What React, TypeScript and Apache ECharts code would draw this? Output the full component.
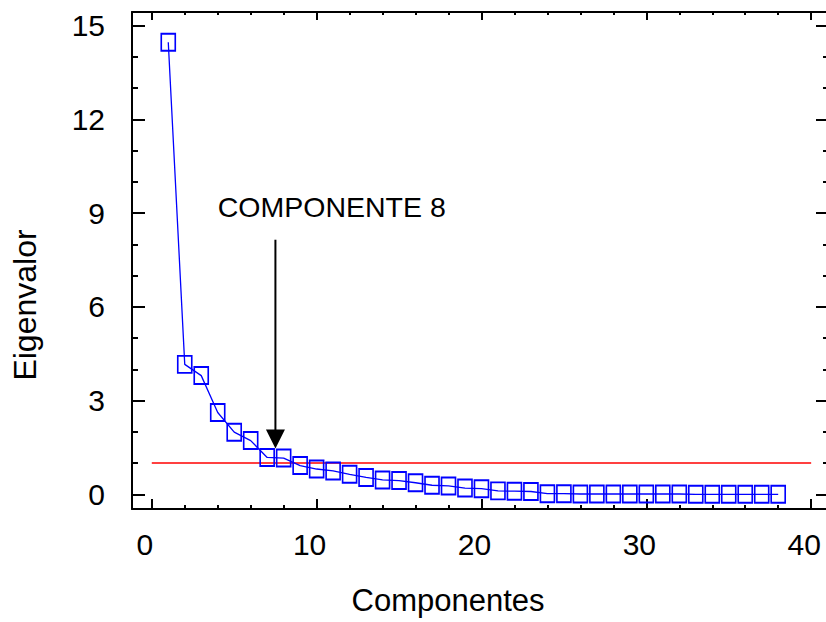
import React, { useEffect, useRef } from 'react';
import * as echarts from 'echarts';

// ---- data ----
const components = [
  1, 2, 3, 4, 5, 6, 7, 8, 9, 10, 11, 12, 13, 14, 15, 16, 17, 18, 19,
  20, 21, 22, 23, 24, 25, 26, 27, 28, 29, 30, 31, 32, 33, 34, 35, 36, 37, 38,
];
const eigenvalues = [
  14.47, 4.16, 3.8, 2.62, 1.99, 1.72, 1.18, 1.16, 0.92, 0.81, 0.75, 0.64, 0.54,
  0.46, 0.44, 0.37, 0.29, 0.27, 0.2, 0.18, 0.11, 0.1, 0.09, 0.02, 0.02, 0.01,
  0.01, 0.01, 0.01, 0.01, 0.01, 0.01, 0.0, 0.0, 0.0, 0.0, 0.0, 0.0,
];
const thresholdX = [0, 40];
const thresholdValue = 1;

const xMajorTicks = [0, 10, 20, 30, 40];
const xMinorTicks = [2, 4, 6, 8, 12, 14, 16, 18, 22, 24, 26, 28, 32, 34, 36, 38];
const yMajorTicks = [0, 3, 6, 9, 12, 15];
const yMinorTicks = [1, 2, 4, 5, 7, 8, 10, 11, 13, 14];

const X_MIN = -1.2;
const X_MAX = 40.9;
const Y_MIN = -0.47;
const Y_MAX = 15.44;

const annotationText = 'COMPONENTE 8';
const annotationTextPos = [4.0, 9.2];
const arrowX = 7.5;
const arrowTopY = 8.15;
const arrowTipY = 1.47;

const FONT = 'Arial, "Liberation Sans", Helvetica, sans-serif';
const BLUE = '#0000ff';

function xAxis(position: string, ticks: number[], len: number, withLine: boolean, labels: boolean) {
  return {
    type: 'value',
    position,
    min: X_MIN,
    max: X_MAX,
    splitLine: { show: false },
    axisLine: { show: withLine, onZero: false, lineStyle: { color: '#000', width: 2 } },
    axisTick: {
      show: true,
      inside: true,
      length: len,
      customValues: ticks,
      lineStyle: { color: '#000', width: 2 },
    },
    axisLabel: labels
      ? {
          show: true,
          customValues: ticks,
          fontSize: 30,
          fontFamily: FONT,
          color: '#000',
          margin: 20,
          padding: [0, 14, 0, 0],
        }
      : { show: false },
  };
}

function yAxis(position: string, ticks: number[], len: number, withLine: boolean, labels: boolean) {
  return {
    type: 'value',
    position,
    min: Y_MIN,
    max: Y_MAX,
    splitLine: { show: false },
    axisLine: { show: withLine, onZero: false, lineStyle: { color: '#000', width: 2 } },
    axisTick: {
      show: true,
      inside: true,
      length: len,
      customValues: ticks,
      lineStyle: { color: '#000', width: 2 },
    },
    axisLabel: labels
      ? {
          show: true,
          customValues: ticks,
          fontSize: 30,
          fontFamily: FONT,
          color: '#000',
          margin: 27,
        }
      : { show: false },
  };
}

export default function App() {
  const ref = useRef<HTMLDivElement>(null);

  useEffect(() => {
    if (!ref.current) return;
    const chart = echarts.init(ref.current, undefined, { renderer: 'svg' });
    chart.setOption({
      animation: false,
      backgroundColor: '#fff',
      grid: { left: 132, right: 0, top: 12, bottom: 113, containLabel: false, outerBoundsMode: 'none' },
      xAxis: [
        xAxis('bottom', xMajorTicks, 10, true, true),
        xAxis('bottom', xMinorTicks, 4, false, false),
        xAxis('top', xMajorTicks, 8, true, false),
        xAxis('top', xMinorTicks, 3, false, false),
      ],
      yAxis: [
        yAxis('left', yMajorTicks, 13, true, true),
        yAxis('left', yMinorTicks, 6, false, false),
        yAxis('right', yMajorTicks, 10, false, false),
        yAxis('right', yMinorTicks, 3, false, false),
      ],
      series: [
        {
          type: 'line',
          xAxisIndex: 0,
          yAxisIndex: 0,
          data: thresholdX.map((x) => [x, thresholdValue]),
          symbol: 'none',
          lineStyle: { color: '#ff0000', width: 1.5 },
          silent: true,
          z: 2,
        },
        {
          type: 'line',
          xAxisIndex: 0,
          yAxisIndex: 0,
          data: components.map((c, i) => [c, eigenvalues[i]]),
          symbol: 'rect',
          symbolSize: [14, 17],
          itemStyle: { color: 'rgba(0,0,0,0)', borderColor: BLUE, borderWidth: 1.8 },
          lineStyle: { color: BLUE, width: 1.3 },
          z: 3,
        },
      ],
    });

    const px = (x: number, y: number) => chart.convertToPixel({ seriesIndex: 1 }, [x, y]) as number[];
    const top = px(arrowX, arrowTopY);
    const tip = px(arrowX, arrowTipY);
    const txt = px(annotationTextPos[0], annotationTextPos[1]);
    const headH = 19;
    const headW = 19;

    chart.setOption({
      graphic: [
        {
          type: 'line',
          shape: { x1: top[0], y1: top[1], x2: tip[0], y2: tip[1] - headH + 1 },
          style: { stroke: '#000', lineWidth: 2 },
          z: 10,
        },
        {
          type: 'polygon',
          shape: {
            points: [
              [tip[0] - headW / 2, tip[1] - headH],
              [tip[0] + headW / 2, tip[1] - headH],
              [tip[0], tip[1]],
            ],
          },
          style: { fill: '#000' },
          z: 10,
        },
        {
          type: 'text',
          x: txt[0],
          y: txt[1],
          style: {
            text: annotationText,
            font: `28.5px ${FONT}`,
            fill: '#000',
            textAlign: 'left',
            textVerticalAlign: 'middle',
          },
          z: 10,
        },
        {
          type: 'text',
          x: 448,
          y: 600,
          style: {
            text: 'Componentes',
            font: `31px ${FONT}`,
            fill: '#000',
            textAlign: 'center',
            textVerticalAlign: 'middle',
          },
        },
        {
          type: 'text',
          x: 25,
          y: 305,
          rotation: Math.PI / 2,
          style: {
            text: 'Eigenvalor',
            font: `32px ${FONT}`,
            fill: '#000',
            textAlign: 'center',
            textVerticalAlign: 'middle',
          },
        },
      ],
    });

    return () => chart.dispose();
  }, []);

  return (
    <div
      ref={ref}
      style={{ position: 'absolute', left: 0, top: 0, width: 826, height: 622 }}
    />
  );
}
